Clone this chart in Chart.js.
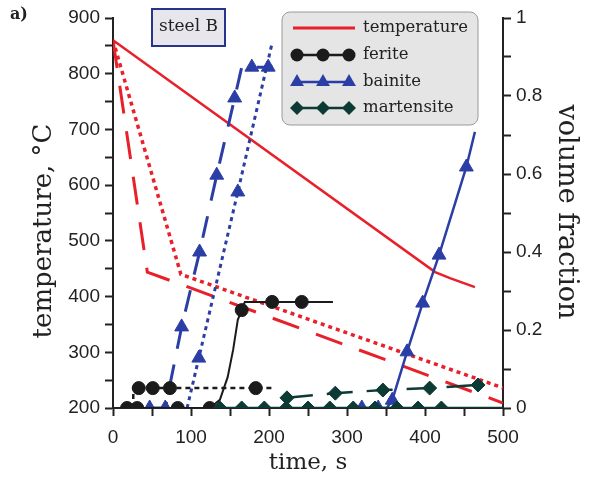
<!DOCTYPE html>
<html>
<head>
<meta charset="utf-8">
<script src="https://cdn.jsdelivr.net/npm/chart.js@4"></script>
<style>
  html, body { margin: 0; padding: 0; background: #fff; }
</style>
</head>
<body>
<canvas id="grafico" width="593" height="483"></canvas>
<script>
// valores: tiempo (s), temperatura (C), fraccion de volumen
const tempSolidT = [0, 413, 432, 464];
const tempSolidV = [860, 444, 433, 417];
const tempDashT = [0, 44, 500];
const tempDashV = [860, 444, 209];
const tempDotT = [0, 87, 500];
const tempDotV = [860, 440, 236];

// ferrita
const ferSolidT = [18, 31, 83, 124, 137, 147, 154, 160, 165, 169, 204, 242, 282];
const ferSolidV = [0, 0, 0, 0, 0.021, 0.079, 0.149, 0.226, 0.251, 0.272, 0.272, 0.272, 0.272];
const ferSolidMarkT = [18, 31, 83, 124, 165, 204, 242];
const ferSolidMarkV = [0, 0, 0, 0, 0.251, 0.272, 0.272];
const ferDashT = [26, 26, 204];
const ferDashV = [0, 0.051, 0.051];
const ferDashMarkT = [33, 51, 73, 183];
const ferDashMarkV = [0.051, 0.051, 0.051, 0.051];

// bainita
const baiDashT = [47, 67, 88, 111, 133, 156, 165, 205];
const baiDashV = [0, 0, 0.208, 0.4, 0.597, 0.795, 0.874, 0.874];
const baiDashMarkT = [47, 67, 88, 111, 133, 156, 178, 199];
const baiDashMarkV = [0, 0, 0.208, 0.4, 0.597, 0.795, 0.874, 0.874];
const baiDotT = [95, 110, 160, 204];
const baiDotV = [0, 0.128, 0.554, 0.936];
const baiDotMarkT = [110, 160];
const baiDotMarkV = [0.128, 0.554];
const baiSolidT = [319, 351, 358, 377, 397, 418, 453, 464];
const baiSolidV = [0, 0, 0.02, 0.144, 0.269, 0.392, 0.618, 0.708];
const baiSolidMarkT = [319, 340, 358, 377, 397, 418, 453];
const baiSolidMarkV = [0, 0, 0.02, 0.144, 0.269, 0.392, 0.618];

// martensita
const marSolidT = [137, 500];
const marSolidV = [0, 0];
const marSolidMarkT = [137, 165, 194, 222, 250, 278, 308, 336, 364, 391, 421];
const marSolidMarkV = [0, 0, 0, 0, 0, 0, 0, 0, 0, 0, 0];
const marDashT = [223, 285, 346, 406, 468];
const marDashV = [0.026, 0.038, 0.046, 0.051, 0.059];

const legendLabels = ['temperature', 'ferite', 'bainite', 'martensite'];

const ROJO = '#e8202a';
const NEGRO = '#1b1b1b';
const AZUL = '#2b3ea5';
const VERDE = '#0c3a34';

const pts = (t, v) => t.map((x, i) => ({ x: x, y: v[i] }));

function linea(t, v, color, eje, ancho, dash) {
  return {
    data: pts(t, v), borderColor: color, borderWidth: ancho, borderDash: dash || [],
    pointRadius: 0, yAxisID: eje, tension: 0, fill: false
  };
}
function marcas(t, v, color, eje, estilo, r) {
  return {
    data: pts(t, v), showLine: false, pointStyle: estilo, pointRadius: r,
    backgroundColor: color, borderColor: color, borderWidth: 1, yAxisID: eje
  };
}

// primero = arriba
const datasets = [
  marcas(marSolidMarkT, marSolidMarkV, VERDE, 'y1', 'rectRot', 7),
  marcas(marDashT, marDashV, VERDE, 'y1', 'rectRot', 7),
  linea(marSolidT, marSolidV, VERDE, 'y1', 2.5),
  linea(marDashT, marDashV, VERDE, 'y1', 2.5, [26, 14]),
  marcas(ferSolidMarkT, ferSolidMarkV, NEGRO, 'y1', 'circle', 6.5),
  marcas(ferDashMarkT, ferDashMarkV, NEGRO, 'y1', 'circle', 6.5),
  linea(ferSolidT, ferSolidV, NEGRO, 'y1', 2),
  linea(ferDashT, ferDashV, NEGRO, 'y1', 2.5, [5, 4]),
  marcas(baiDashMarkT, baiDashMarkV, AZUL, 'y1', 'triangle', 8),
  marcas(baiDotMarkT, baiDotMarkV, AZUL, 'y1', 'triangle', 8),
  marcas(baiSolidMarkT, baiSolidMarkV, AZUL, 'y1', 'triangle', 8),
  linea(baiDashT, baiDashV, AZUL, 'y1', 3, [22, 16]),
  linea(baiDotT, baiDotV, AZUL, 'y1', 3, [4, 4]),
  linea(baiSolidT, baiSolidV, AZUL, 'y1', 2.5),
  linea(tempSolidT, tempSolidV, ROJO, 'y', 2.5),
  linea(tempDashT, tempDashV, ROJO, 'y', 3, [28, 18]),
  linea(tempDotT, tempDotV, ROJO, 'y', 3.5, [4, 4])
];

function marca(ctx, estilo, x, y, r, color) {
  ctx.fillStyle = color;
  ctx.beginPath();
  if (estilo === 'circle') {
    ctx.arc(x, y, r, 0, Math.PI * 2);
  } else if (estilo === 'triangle') {
    ctx.moveTo(x, y - r);
    ctx.lineTo(x + r * 0.866, y + r * 0.5);
    ctx.lineTo(x - r * 0.866, y + r * 0.5);
  } else {
    ctx.moveTo(x - r, y); ctx.lineTo(x, y - r); ctx.lineTo(x + r, y); ctx.lineTo(x, y + r);
  }
  ctx.closePath();
  ctx.fill();
}

const decor = {
  id: 'decor',
  afterDraw(chart) {
    const ctx = chart.ctx;
    ctx.save();
    // caja "steel B"
    ctx.fillStyle = '#e6e6ec';
    ctx.fillRect(152, 9, 73, 37);
    ctx.strokeStyle = '#27348b';
    ctx.lineWidth = 2;
    ctx.strokeRect(152, 9, 73, 37);
    ctx.fillStyle = '#222';
    ctx.font = '17px "DejaVu Serif"';
    ctx.textAlign = 'center';
    ctx.textBaseline = 'middle';
    ctx.fillText('steel B', 188.5, 27);

    // leyenda
    ctx.beginPath();
    ctx.roundRect(282, 12, 196, 113, 8);
    ctx.fillStyle = '#e5e5e5';
    ctx.fill();
    ctx.strokeStyle = '#9a9a9a';
    ctx.lineWidth = 1;
    ctx.stroke();
    const filas = [28, 55, 82, 108];
    const colores = [ROJO, NEGRO, AZUL, VERDE];
    const estilos = [null, 'circle', 'triangle', 'rectRot'];
    const radios = [0, 6.5, 8, 7];
    filas.forEach((y, i) => {
      ctx.strokeStyle = colores[i];
      ctx.lineWidth = i === 0 ? 3 : 2.5;
      ctx.beginPath();
      if (i === 0) { ctx.moveTo(293, y); ctx.lineTo(355, y); }
      else { ctx.moveTo(297, y); ctx.lineTo(349, y); }
      ctx.stroke();
      if (estilos[i]) [297, 323, 349].forEach(x => marca(ctx, estilos[i], x, y, radios[i], colores[i]));
      ctx.fillStyle = '#222';
      ctx.font = '16.5px "DejaVu Serif"';
      ctx.textAlign = 'left';
      ctx.textBaseline = 'middle';
      ctx.fillText(legendLabels[i], 363, y);
    });

    // titulos de ejes
    ctx.fillStyle = '#222';
    ctx.textAlign = 'center';
    ctx.textBaseline = 'middle';
    ctx.font = '23px "DejaVu Serif"';
    ctx.fillText('time, s', 308, 463);
    ctx.font = '26px "DejaVu Serif"';
    ctx.save();
    ctx.translate(44, 231);
    ctx.rotate(-Math.PI / 2);
    ctx.fillText('temperature, \u00B0C', 0, 0);
    ctx.restore();
    ctx.font = '27px "DejaVu Serif"';
    ctx.save();
    ctx.translate(566, 212);
    ctx.rotate(Math.PI / 2);
    ctx.fillText('volume fraction', 0, 0);
    ctx.restore();

    ctx.font = 'bold 16px "DejaVu Serif"';
    ctx.textAlign = 'left';
    ctx.fillText('a)', 10, 15);
    ctx.restore();
  }
};

const tickFont = { family: 'Liberation Sans', size: 19 };
const gridCfg = { drawOnChartArea: false, drawTicks: true, tickLength: 8, tickWidth: 2, tickColor: '#222' };
const borderCfg = { display: true, color: '#222', width: 2 };

new Chart(document.getElementById('grafico'), {
  type: 'line',
  data: { datasets: datasets },
  plugins: [decor],
  options: {
    responsive: false,
    animation: false,
    events: [],
    layout: { padding: { top: 18, left: 0, right: 0, bottom: 0 } },
    plugins: { legend: { display: false }, tooltip: { enabled: false } },
    scales: {
      x: {
        type: 'linear', min: 0, max: 500, position: 'bottom',
        ticks: { stepSize: 50, autoSkip: false, maxRotation: 0, color: '#222', font: tickFont, padding: 10,
          callback: v => (v % 100 === 0 ? v : '') },
        grid: gridCfg, border: borderCfg,
        afterFit: s => { s.height = 75; }
      },
      y: {
        type: 'linear', min: 200, max: 900, position: 'left',
        ticks: { stepSize: 50, autoSkip: false, color: '#222', font: tickFont, padding: 5,
          callback: v => (v % 100 === 0 ? v : '') },
        grid: gridCfg, border: borderCfg,
        afterFit: s => { s.width = 113; }
      },
      y1: {
        type: 'linear', min: 0, max: 1, position: 'right',
        ticks: { stepSize: 0.1, autoSkip: false, color: '#222', font: tickFont, padding: 5,
          callback: v => { const k = Math.round(v * 10); return k % 2 === 0 ? String(k / 10) : ''; } },
        grid: gridCfg, border: borderCfg,
        afterFit: s => { s.width = 90; }
      }
    }
  }
});
</script>
</body>
</html>
